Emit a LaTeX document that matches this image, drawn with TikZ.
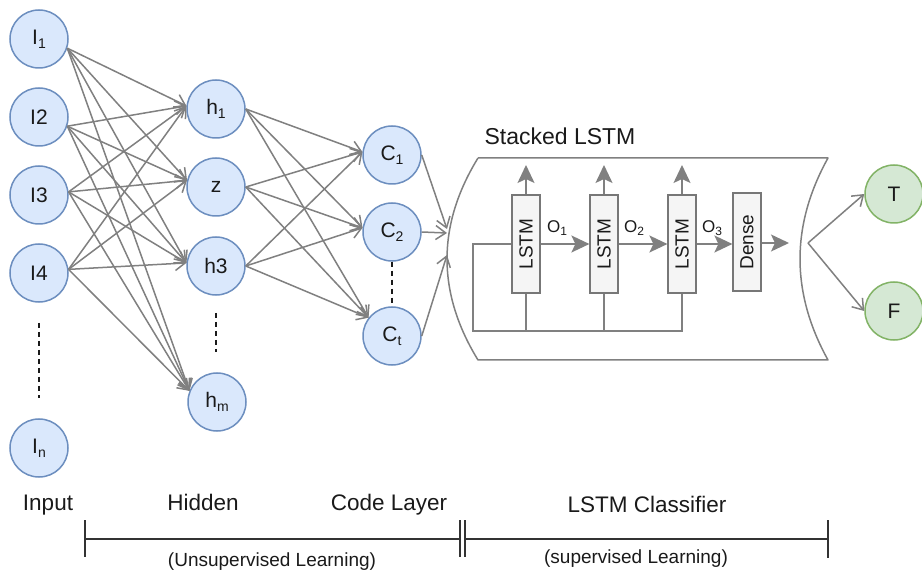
\documentclass[tikz,border=0pt]{standalone}
\usepackage{fontspec}
\setmainfont{Liberation Sans}
\usetikzlibrary{arrows.meta}

% lowered, smaller index for node labels
\newcommand\lsub[2][14]{\raisebox{-0.35ex}{\fontsize{#1}{#1}\selectfont #2}}

\definecolor{nodefill}{HTML}{DAE8FC}
\definecolor{nodeline}{HTML}{6C8EBF}
\definecolor{greenfill}{HTML}{D5E8D4}
\definecolor{greenline}{HTML}{82B366}
\definecolor{wire}{HTML}{808080}
\definecolor{boxfill}{HTML}{F5F5F5}
\definecolor{boxline}{HTML}{777777}
\definecolor{ink}{HTML}{1A1A1A}

\begin{document}
\begin{tikzpicture}[x=1pt,y=-1pt,
  neuron/.style={circle,draw=nodeline,fill=nodefill,line width=1.5pt,
    minimum size=58pt,inner sep=0pt,font=\fontsize{21}{24}\selectfont,text=ink},
  outnode/.style={neuron,draw=greenline,fill=greenfill},
  link/.style={draw=wire,line width=1.5pt,-{Straight Barb[length=10pt,width=14pt]}},
  wireline/.style={draw=wire,line width=1.5pt},
  flow/.style={wireline,-{Stealth[length=18pt,width=17pt,inset=4pt]}},
  cell/.style={draw=boxline,fill=boxfill,line width=1.2pt,minimum width=28pt,
    minimum height=98pt,inner sep=0pt,font=\fontsize{19}{22}\selectfont,text=ink},
  gap/.style={draw=ink,line width=2pt,dash pattern=on 5pt off 4pt},
  layer/.style={font=\fontsize{22.5}{26}\selectfont,text=ink,inner sep=0pt,anchor=base},
  note/.style={font=\fontsize{19}{22}\selectfont,text=ink,inner sep=0pt,anchor=base},
  olabel/.style={font=\fontsize{17}{20}\selectfont,text=ink,inner sep=0pt},
  ruler/.style={draw=black!80,line width=1.8pt}
]
\useasboundingbox (0,0) rectangle (922,572);
\fill[white] (0,0) rectangle (922,572);

% ---- input layer
\node[neuron] (I1) at (39,39)  {I\lsub{1}};
\node[neuron] (I2) at (39,117) {I2};
\node[neuron] (I3) at (39,195) {I3};
\node[neuron] (I4) at (39,273) {I4};
\node[neuron] (In) at (39,448) {I\lsub{n}};

% ---- hidden layer
\node[neuron] (h1) at (216,109) {h\lsub{1}};
\node[neuron] (hz) at (216,187) {z};
\node[neuron] (h3) at (216,266) {h3};
\node[neuron] (hm) at (217,402) {h\lsub{m}};

% ---- code layer
\node[neuron] (C1) at (392,155) {C\lsub{1}};
\node[neuron] (C2) at (392,232) {C\lsub{2}};
\node[neuron] (Ct) at (392,336) {C\lsub{t}};

% ---- output
\node[outnode] (T) at (894,194) {T};
\node[outnode] (F) at (894,311) {F};

% ---- ellipsis marks
\coordinate (dI1) at (39,323);  \coordinate (dI2) at (39,398);
\coordinate (dh1) at (216,313); \coordinate (dh2) at (216,352);
\draw[gap] (dI1) -- (dI2);
\draw[gap] (dh1) -- (dh2);
\draw[gap] (C2.south) -- (Ct.north);

% ---- input -> hidden (fully connected)
\foreach \src/\ang in {I1/-18,I2/-18,I3/6,I4/7}{
  \draw[link] (\src.\ang) -- (h1.174);
  \draw[link] (\src.\ang) -- (hz.167);
  \draw[link] (\src.\ang) -- (h3.174);
  \draw[link] (\src.\ang) -- (hm.158);
}

% ---- hidden -> code (fully connected)
\foreach \src in {h1,hz,h3}{
  \draw[link] (\src.east) -- (C1.174);
  \draw[link] (\src.east) -- (C2.172);
  \draw[link] (\src.east) -- (Ct.142);
}

% ---- stacked LSTM container (data storage outline)
\node[font=\fontsize{23}{27}\selectfont,text=ink,inner sep=0pt,anchor=base] (title) at (560,145) {Stacked LSTM};
\draw[draw=wire,line width=1.5pt,line join=round]
  (478,158) -- (828,158)
  .. controls (790.7,225.3) and (790.7,292.7) .. (828,360)
  -- (478,360)
  .. controls (436.7,292.7) and (436.7,225.3) .. (478,158);

% code layer feeds the container
\coordinate (in1) at (447,229);
\coordinate (in2) at (447,233);
\coordinate (in3) at (447,255);
\draw[link] (C1.east) -- (in1);
\draw[link] (C2.east) -- (in2);
\draw[link] (Ct.east) -- (in3);

% cells
\node[cell] (L1) at (526,244) {\rotatebox{90}{LSTM}};
\node[cell] (L2) at (604,244) {\rotatebox{90}{LSTM}};
\node[cell] (L3) at (682,244) {\rotatebox{90}{LSTM}};
\node[cell] (Dn) at (747,242) {\rotatebox{90}{Dense}};

% outputs going up from each LSTM
\coordinate (u1) at (526,165);
\coordinate (u2) at (604,165);
\coordinate (u3) at (682,165);
\draw[flow] (L1.north) -- (u1);
\draw[flow] (L2.north) -- (u2);
\draw[flow] (L3.north) -- (u3);

% chain between cells
\draw[flow] (L1.east) -- (L2.west);
\draw[flow] (L2.east) -- (L3.west);
\draw[flow] (L3.east) -- (L3.east -| Dn.west);
\coordinate (dout) at (789,243);
\draw[flow] (Dn.east |- dout) -- (dout);

\node[olabel] (o1) at (557,228) {O\lsub[12]{1}};
\node[olabel] (o2) at (634,228) {O\lsub[12]{2}};
\node[olabel] (o3) at (712,228) {O\lsub[12]{3}};

% feedback wiring under the cells
\coordinate (fb1) at (473,244);
\coordinate (fb2) at (473,331);
\coordinate (fb3) at (682,331);
\draw[wireline] (L1.west) -- (fb1) -- (fb2) -- (fb3) -- (L3.south);
\draw[wireline] (L1.south) -- (L1.south |- fb2);
\draw[wireline] (L2.south) -- (L2.south |- fb2);

% classifier split
\coordinate (split) at (808,243);
\draw[link] (split) -- (T.west);
\draw[link] (split) -- (F.west);

% ---- layer captions
\node[layer] (capI) at (48,510)  {Input};
\node[layer] (capH) at (203,510) {Hidden};
\node[layer] (capC) at (389,510) {Code Layer};
\node[layer] (capL) at (647,512) {LSTM Classifier};

% ---- learning phase ruler
\draw[ruler] (85,520) -- (85,557);
\draw[ruler] (85,539) -- (460,539);
\draw[ruler] (460,520) -- (460,557);
\draw[ruler] (465,520) -- (465,557);
\draw[ruler] (465,539) -- (828,539);
\draw[ruler] (828,520) -- (828,558);

\node[note] (capU) at (272,566) {(Unsupervised Learning)};
\node[note] (capS) at (636,563) {(supervised Learning)};
\end{tikzpicture}
\end{document}
